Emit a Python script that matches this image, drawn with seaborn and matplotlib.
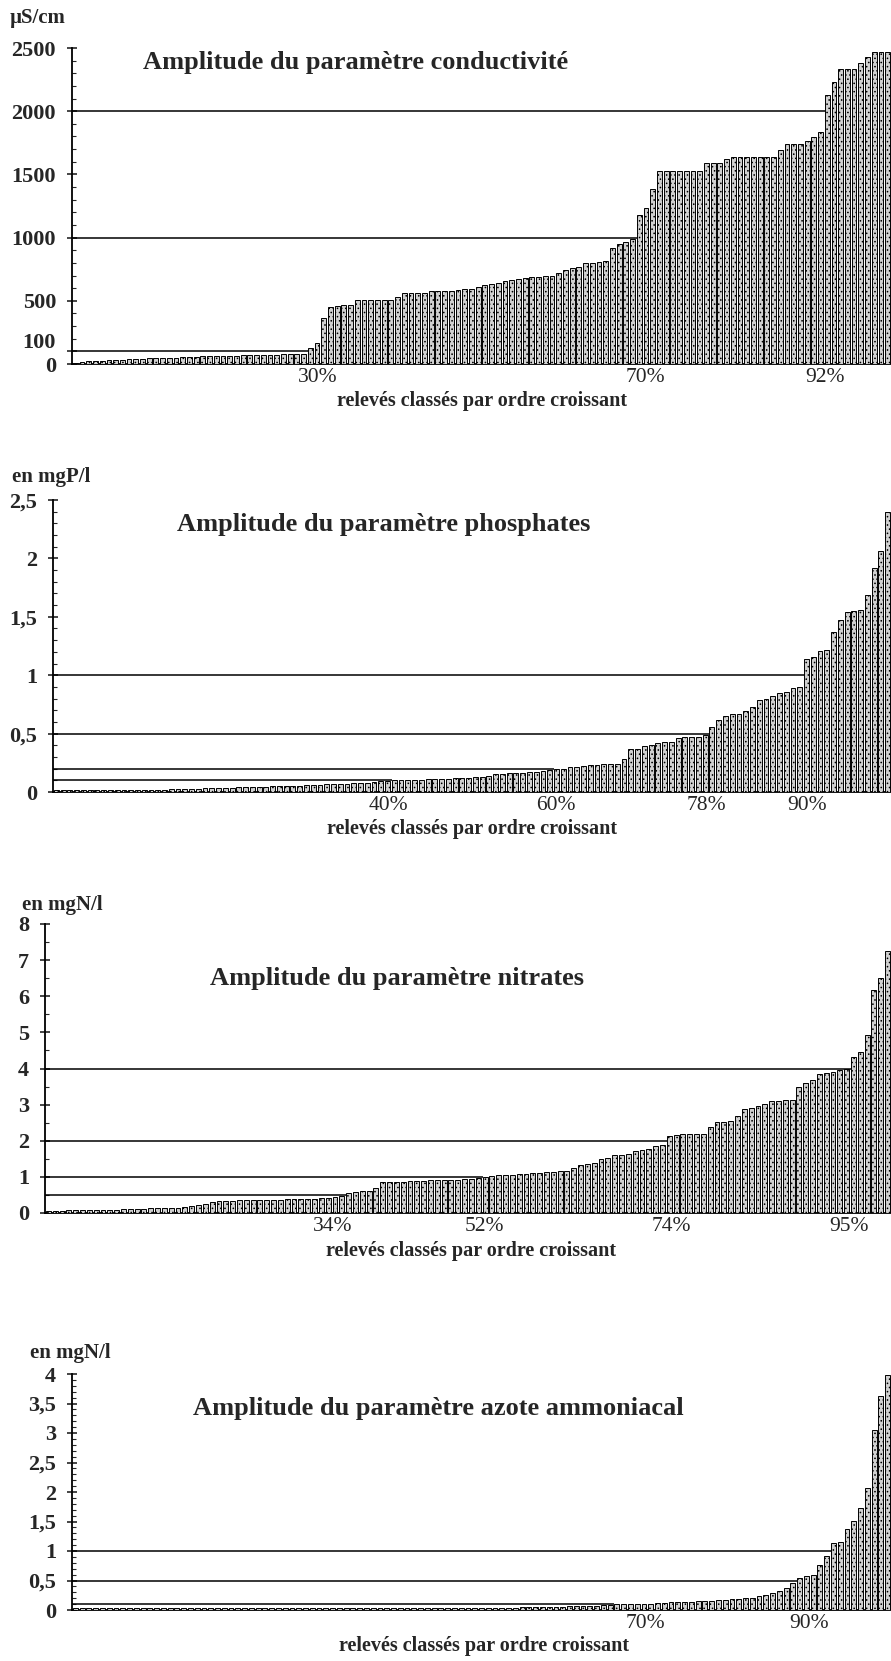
import numpy as np
import pandas as pd
import matplotlib
matplotlib.use('Agg')
import matplotlib.pyplot as plt
import matplotlib.transforms as mtransforms
from matplotlib.ticker import MultipleLocator
import seaborn as sns

sns.set_style('white')
plt.rcParams['font.family'] = ['Liberation Serif', 'DejaVu Serif']
plt.rcParams['hatch.linewidth'] = 0.6

# valeurs relevees, classees par ordre croissant
conductivite = [
    10, 15, 20, 25, 25,
    30, 35, 35, 40, 40, 40, 45, 45,
    50, 50, 50, 55, 55, 55, 60, 60, 60, 65, 65, 65,
    70, 70, 70, 75, 75, 75, 80, 80, 80, 80,
    125, 165, 360, 450, 460, 465, 470,
    505, 505, 505, 505, 510, 510, 530, 560, 560, 560, 560, 575, 575,
    575, 580, 585, 590, 590,
    610, 625, 630, 640, 657, 665, 675,
    683, 690, 690, 696, 700, 720, 740, 760,
    770, 798, 800, 805, 817,
    920, 950, 964, 990,
    1179, 1233, 1384,
    1530, 1530, 1530, 1530, 1530, 1530, 1530,
    1588, 1588, 1588,
    1620,
    1640, 1640, 1640, 1640, 1640, 1640, 1640,
    1693, 1740, 1740, 1740, 1764, 1798, 1838,
    2128, 2233, 2330, 2330, 2330, 2378, 2425, 2470, 2470, 2470]

phosphates = [
    0.018, 0.018, 0.018, 0.018, 0.018, 0.018, 0.018, 0.018, 0.018, 0.018,
    0.02, 0.02, 0.02, 0.02, 0.02, 0.02, 0.02,
    0.022, 0.022, 0.025, 0.025, 0.028, 0.03, 0.03, 0.03, 0.035, 0.035, 0.04, 0.04, 0.04, 0.04,
    0.045, 0.05, 0.05, 0.05, 0.055, 0.055, 0.06, 0.06, 0.06, 0.065,
    0.065, 0.07, 0.07, 0.075, 0.08, 0.08, 0.085, 0.09, 0.095,
    0.1, 0.1, 0.1, 0.1, 0.1, 0.11, 0.11,
    0.11, 0.11, 0.12, 0.12, 0.12, 0.13, 0.13,
    0.14, 0.15, 0.15, 0.16, 0.16, 0.16, 0.17, 0.17,
    0.18, 0.19,
    0.2, 0.2, 0.21, 0.21,
    0.22, 0.23, 0.23, 0.24, 0.24, 0.24,
    0.28,
    0.37, 0.37,
    0.39, 0.40,
    0.42, 0.43, 0.43,
    0.46, 0.47, 0.47, 0.47,
    0.49,
    0.56, 0.62, 0.65, 0.67, 0.67, 0.69, 0.725, 0.79, 0.80, 0.82, 0.85, 0.86, 0.89, 0.90,
    1.14, 1.155, 1.21, 1.22, 1.37, 1.47, 1.54, 1.55, 1.56, 1.69, 1.915, 2.06, 2.40]

nitrates = [
    0.06, 0.06, 0.06, 0.07, 0.07, 0.07, 0.08, 0.08, 0.08, 0.09, 0.09,
    0.1, 0.1, 0.12, 0.12, 0.13, 0.13, 0.14, 0.14, 0.15, 0.16,
    0.2, 0.22, 0.25,
    0.3, 0.32, 0.33, 0.34, 0.35, 0.35, 0.36, 0.36, 0.36, 0.37, 0.37, 0.38, 0.38, 0.39, 0.4, 0.4, 0.41, 0.42,
    0.45, 0.47,
    0.55, 0.58, 0.6, 0.62,
    0.69,
    0.85, 0.86, 0.87, 0.87, 0.88, 0.88, 0.89, 0.9,
    0.9, 0.91, 0.91, 0.92, 0.93, 0.95, 0.97,
    1.0, 1.03, 1.05, 1.05, 1.06, 1.07, 1.08, 1.1,
    1.12, 1.13, 1.14, 1.15, 1.16,
    1.24,
    1.33, 1.36, 1.38,
    1.5, 1.52,
    1.6, 1.61, 1.63,
    1.72, 1.75, 1.78,
    1.85, 1.88,
    2.14,
    2.17, 2.18, 2.18, 2.19, 2.2,
    2.39,
    2.52, 2.53, 2.55,
    2.69,
    2.88, 2.9, 2.95,
    3.02,
    3.1, 3.11, 3.12, 3.13,
    3.48, 3.6, 3.69,
    3.86, 3.88, 3.9,
    3.96, 3.98,
    4.33, 4.46, 4.93, 6.18, 6.5, 7.24]

azote_ammoniacal = [
    0.03, 0.03, 0.03, 0.03, 0.03, 0.03, 0.03, 0.03, 0.03, 0.03,
    0.03, 0.03, 0.03, 0.03, 0.03, 0.03, 0.03, 0.03, 0.03, 0.03,
    0.035, 0.035, 0.035, 0.035, 0.035, 0.035, 0.035, 0.035, 0.035, 0.035, 0.035,
    0.035, 0.035, 0.035, 0.035, 0.035, 0.035, 0.035, 0.035, 0.035, 0.035, 0.035,
    0.035, 0.035, 0.035, 0.035, 0.035, 0.035, 0.035, 0.035, 0.035, 0.035, 0.035,
    0.04, 0.04, 0.04, 0.04, 0.04, 0.04, 0.04, 0.04, 0.04, 0.04, 0.04, 0.04, 0.04,
    0.045, 0.045, 0.05, 0.05, 0.05, 0.055, 0.055, 0.06, 0.06, 0.065, 0.07, 0.07, 0.08, 0.09,
    0.1, 0.1, 0.1, 0.11, 0.11, 0.11, 0.12, 0.12, 0.13, 0.13, 0.14, 0.14, 0.15,
    0.16, 0.16, 0.17, 0.17, 0.18, 0.18, 0.2, 0.21,
    0.23, 0.25, 0.28, 0.32,
    0.38, 0.45, 0.54, 0.58, 0.6, 0.77, 0.92,
    1.13, 1.15, 1.37, 1.51, 1.73, 2.07, 3.05, 3.62, 3.98]

# seuils traces et pourcentages indiques sous l'axe
seuils_cond = [100, 1000, 2000]
pct_cond = [30, 70, 92]
seuils_phos = [0.1, 0.2, 0.5, 1]
pct_phos = [40, 60, 78, 90]
seuils_nitr = [0.5, 1, 2, 4]
pct_nitr = [34, 52, 74, 95]
seuils_nh4 = [0.1, 0.5, 1]
pct_nh4 = [70, 90]

ticks_cond = [0, 100, 500, 1000, 1500, 2000, 2500]
labels_cond = ['0', '100', '500', '1000', '1500', '2000', '2500']
ticks_phos = [0, 0.5, 1, 1.5, 2, 2.5]
labels_phos = ['0', '0,5', '1', '1,5', '2', '2,5']
ticks_nitr = [0, 1, 2, 3, 4, 5, 6, 7, 8]
labels_nitr = ['0', '1', '2', '3', '4', '5', '6', '7', '8']
ticks_nh4 = [0, 0.5, 1, 1.5, 2, 2.5, 3, 3.5, 4]
labels_nh4 = ['0', '0,5', '1', '1,5', '2', '2,5', '3', '3,5', '4']

W, H = 891, 1661
fig = plt.figure(figsize=(W / 100, H / 100), dpi=100)


def axes_px(left, top, right, bottom):
    return fig.add_axes([left / W, 1 - bottom / H, (right - left) / W, (bottom - top) / H])


def panneau(ax, valeurs, seuils, pcts, ticks, labels, ymax, minor):
    n = len(valeurs)
    df = pd.DataFrame({'rang': np.arange(n), 'valeur': valeurs})
    sns.barplot(data=df, x='rang', y='valeur', ax=ax, color='#d0d0d0', saturation=1,
                width=0.72, edgecolor='black', linewidth=0.7)
    for p in ax.patches:
        p.set_hatch('....')
        p.set_zorder(2.6)  # au-dessus de l'axe pour voir les tres petites valeurs
    arr = np.asarray(valeurs)
    for s in seuils:
        k = int(np.argmax(arr >= s))
        ax.hlines(s, -0.5, k - 0.36, color='black', lw=1.1, zorder=3)
    ax.set_xlim(-0.5, n - 0.5)
    ax.set_ylim(0, ymax)
    ax.set_xticks([p / 100 * n - 0.5 for p in pcts])
    ax.set_xticklabels([f'{p}%' for p in pcts], fontsize=15.5)
    ax.tick_params(axis='x', length=0, pad=3)
    ax.set_yticks(ticks)
    ax.set_yticklabels(labels, fontsize=16, fontweight='bold')
    ax.yaxis.set_minor_locator(MultipleLocator(minor))
    ax.tick_params(axis='y', which='major', direction='inout', length=7, width=1.2, pad=8, left=True)
    ax.tick_params(axis='y', which='minor', direction='in', length=3, width=0.8, left=True)
    ax.set_xlabel('')
    ax.set_ylabel('')
    for side in ['top', 'right']:
        ax.spines[side].set_visible(False)
    for side in ['left', 'bottom']:
        ax.spines[side].set_color('black')
        ax.spines[side].set_linewidth(1.3)


ax1 = axes_px(72, 48, 891, 364)
panneau(ax1, conductivite, seuils_cond, pct_cond, ticks_cond, labels_cond, 2500, 100)
# le libelle "100" est remonte pour ne pas toucher le "0"
decalage = mtransforms.ScaledTranslation(0, 8 / 72, fig.dpi_scale_trans)
lab100 = ax1.get_yticklabels()[1]
lab100.set_transform(lab100.get_transform() + decalage)

ax2 = axes_px(53, 500, 891, 792)
panneau(ax2, phosphates, seuils_phos, pct_phos, ticks_phos, labels_phos, 2.5, 0.1)
ax3 = axes_px(45, 924, 891, 1213)
panneau(ax3, nitrates, seuils_nitr, pct_nitr, ticks_nitr, labels_nitr, 8, 0.5)
ax4 = axes_px(72, 1374, 891, 1610)
panneau(ax4, azote_ammoniacal, seuils_nh4, pct_nh4, ticks_nh4, labels_nh4, 4, 0.1)

# unites, titres et legendes d'axe (positions en pixels)
textes = [
    (10, 18, 'µS/cm', 'left', 15),
    (12, 477, 'en mgP/l', 'left', 15),
    (22, 905, 'en mgN/l', 'left', 15),
    (30, 1353, 'en mgN/l', 'left', 15),
    (143, 63, 'Amplitude du paramètre conductivité', 'left', 19),
    (177, 525, 'Amplitude du paramètre phosphates', 'left', 19),
    (210, 978, 'Amplitude du paramètre nitrates', 'left', 19),
    (193, 1408, 'Amplitude du paramètre azote ammoniacal', 'left', 19),
    (482, 401, 'relevés classés par ordre croissant', 'center', 14.5),
    (472, 829, 'relevés classés par ordre croissant', 'center', 14.5),
    (471, 1251, 'relevés classés par ordre croissant', 'center', 14.5),
    (484, 1646, 'relevés classés par ordre croissant', 'center', 14.5),
]
for x, y, t, ha, fs in textes:
    fig.text(x / W, 1 - y / H, t, ha=ha, va='center', fontsize=fs, fontweight='bold')

fig.savefig('out.png', dpi=100)
